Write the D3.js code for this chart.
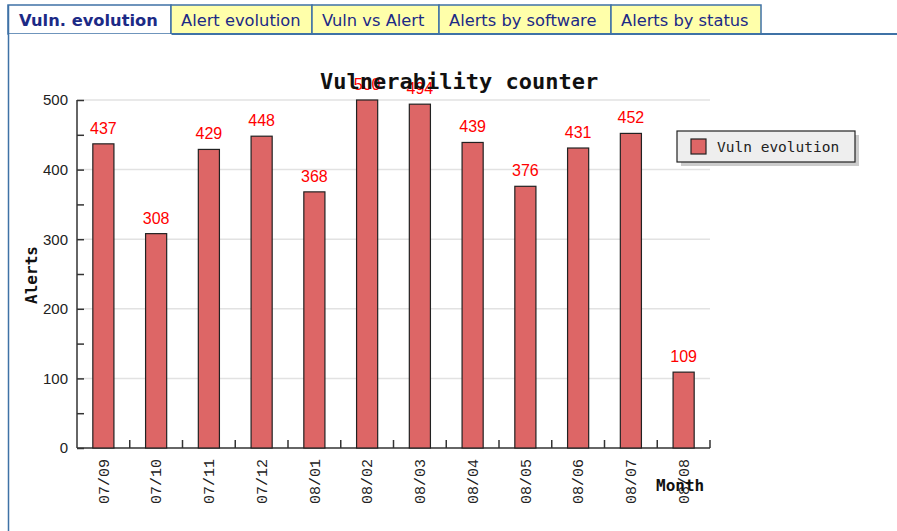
<!DOCTYPE html>
<html lang="en">
<head>
<meta charset="UTF-8">
<title>Vulnerability counter</title>
<script src="https://d3js.org/d3.v7.min.js"></script>
<style>
    body {
        margin: 0;
        background: white;
    }
    svg {
        display: block;
    }
    .tab text {
        font-family: "DejaVu Sans", sans-serif;
        font-size: 16.3px;
        fill: #1c2a86;
    }
    .grid line {
        stroke: #e2e2e2;
        stroke-width: 1.5px;
    }
    .axis path, .axis line {
        stroke: #333;
        stroke-width: 1.5px;
    }
    .bar {
        fill: #dd6666;
        stroke: #222;
        stroke-width: 1.2px;
    }
    .valueLabel {
        font-family: "Liberation Sans", sans-serif;
        font-size: 16px;
        fill: #ff0000;
    }
</style>
</head>
<body>
<div id="container"></div>
<script>
    // data
    const months = ["07/09", "07/10", "07/11", "07/12", "08/01", "08/02",
                    "08/03", "08/04", "08/05", "08/06", "08/07", "08/08"];
    const vulnCounts = [437, 308, 429, 448, 368, 500, 494, 439, 376, 431, 452, 109];
    const yTicks = [0, 50, 100, 150, 200, 250, 300, 350, 400, 450, 500];
    const tabNames = ["Vuln. evolution", "Alert evolution", "Vuln vs Alert",
                      "Alerts by software", "Alerts by status"];
    const tabEdges = [8, 171, 312, 439, 611, 761];

    const width = 897;
    const height = 531;
    const margins = {top: 100, bottom: 83, left: 77, right: 187};

    const svg = d3.select("#container").append("svg")
        .attr("width", width)
        .attr("height", height);

    // tabs
    const tabs = svg.append("g").attr("class", "tab");
    tabs.selectAll("rect")
        .data(tabNames)
        .enter()
        .append("rect")
        .attr("x", (d, i) => tabEdges[i])
        .attr("y", 5)
        .attr("width", (d, i) => tabEdges[i + 1] - tabEdges[i])
        .attr("height", 29)
        .attr("fill", (d, i) => i == 0 ? "white" : "#ffffaa")
        .attr("stroke", "#3f72a6")
        .attr("stroke-width", 1.5);
    tabs.selectAll("text")
        .data(tabNames)
        .enter()
        .append("text")
        .attr("x", (d, i) => tabEdges[i] + (i == 0 ? 11 : 10))
        .attr("y", 26)
        .attr("font-weight", (d, i) => i == 0 ? "bold" : "normal")
        .attr("font-size", (d, i) => i == 0 ? "15.5px" : null)
        .text(d => d);

    // panel border: bottom line of tab row and left side
    svg.append("line")
        .attr("x1", tabEdges[1]).attr("x2", width)
        .attr("y1", 34).attr("y2", 34)
        .attr("stroke", "#3f72a6").attr("stroke-width", 2);
    svg.append("rect")
        .attr("x", 8.5).attr("y", 34)
        .attr("width", 163).attr("height", 2)
        .attr("fill", "white");
    svg.append("line")
        .attr("x1", 8.5).attr("x2", 8.5)
        .attr("y1", 5).attr("y2", height)
        .attr("stroke", "#3f72a6").attr("stroke-width", 1.5);

    // scales
    const xScale = d3.scaleBand()
        .domain(months)
        .range([margins.left, width - margins.right])
        .paddingInner(0.6)
        .paddingOuter(0.3);

    const yScale = d3.scaleLinear()
        .domain([0, 500])
        .range([height - margins.bottom, margins.top]);

    const plotRight = width - margins.right;

    // gridlines
    svg.append("g").attr("class", "grid")
        .selectAll("line")
        .data([100, 200, 300, 400, 500])
        .enter()
        .append("line")
        .attr("x1", margins.left).attr("x2", plotRight)
        .attr("y1", d => yScale(d)).attr("y2", d => yScale(d));

    // y axis
    const yAxis = d3.axisLeft(yScale)
        .tickValues(yTicks)
        .tickSize(-7)
        .tickPadding(9)
        .tickFormat(d => d % 100 == 0 ? d : "");
    const yG = svg.append("g").attr("class", "axis")
        .attr("transform", `translate(${margins.left},0)`)
        .call(yAxis);
    yG.select(".domain").attr("d", `M0,${yScale(0)}V${yScale(500)}`);
    yG.selectAll("text")
        .attr("font-family", "Liberation Sans, sans-serif")
        .attr("font-size", "15px")
        .attr("fill", "#222");

    // x axis with ticks on category boundaries
    const xG = svg.append("g").attr("class", "axis");
    xG.append("line")
        .attr("x1", margins.left).attr("x2", plotRight)
        .attr("y1", yScale(0)).attr("y2", yScale(0));
    xG.selectAll(".xtick")
        .data(months)
        .enter()
        .append("line")
        .attr("class", "xtick")
        .attr("x1", d => xScale(d) + xScale.bandwidth() / 2 + xScale.step() / 2)
        .attr("x2", d => xScale(d) + xScale.bandwidth() / 2 + xScale.step() / 2)
        .attr("y1", yScale(0)).attr("y2", yScale(0) - 8);
    xG.selectAll("text")
        .data(months)
        .enter()
        .append("text")
        .attr("transform", d => `translate(${xScale(d) + xScale.bandwidth() / 2},${yScale(0) + 11}) rotate(-90)`)
        .attr("dy", "0.35em")
        .attr("text-anchor", "end")
        .attr("font-family", "Liberation Mono, monospace")
        .attr("font-size", "15px")
        .attr("fill", "#222")
        .text(d => d);

    // bars
    svg.append("g")
        .selectAll("rect")
        .data(vulnCounts)
        .enter()
        .append("rect")
        .attr("class", "bar")
        .attr("x", (d, i) => xScale(months[i]))
        .attr("y", d => yScale(d))
        .attr("width", xScale.bandwidth())
        .attr("height", d => yScale(0) - yScale(d));

    // value labels
    svg.append("g")
        .selectAll("text")
        .data(vulnCounts)
        .enter()
        .append("text")
        .attr("class", "valueLabel")
        .attr("x", (d, i) => xScale(months[i]) + xScale.bandwidth() / 2)
        .attr("y", d => yScale(d) - 10)
        .attr("text-anchor", "middle")
        .text(d => d);

    // title and axis titles
    svg.append("text")
        .attr("x", 320).attr("y", 89)
        .attr("font-family", "DejaVu Sans Mono, monospace")
        .attr("font-size", "22px")
        .attr("font-weight", "bold")
        .attr("fill", "#111")
        .text("Vulnerability counter");

    svg.append("text")
        .attr("transform", "translate(37,275) rotate(-90)")
        .attr("text-anchor", "middle")
        .attr("font-family", "DejaVu Sans Mono, monospace")
        .attr("font-size", "16px")
        .attr("font-weight", "bold")
        .attr("fill", "#111")
        .text("Alerts");

    svg.append("text")
        .attr("x", 656).attr("y", 491)
        .attr("font-family", "DejaVu Sans Mono, monospace")
        .attr("font-size", "16px")
        .attr("font-weight", "bold")
        .attr("fill", "#111")
        .text("Month");

    // legend
    const legend = svg.append("g").attr("transform", "translate(677,131)");
    legend.append("rect")
        .attr("x", 4).attr("y", 4)
        .attr("width", 178).attr("height", 31)
        .attr("fill", "#cccccc");
    legend.append("rect")
        .attr("width", 178).attr("height", 31)
        .attr("fill", "#eeeeee")
        .attr("stroke", "#222")
        .attr("stroke-width", 1.2);
    legend.append("rect")
        .attr("class", "bar")
        .attr("x", 14).attr("y", 8)
        .attr("width", 15).attr("height", 15);
    legend.append("text")
        .attr("x", 40).attr("y", 21)
        .attr("font-family", "DejaVu Sans Mono, monospace")
        .attr("font-size", "14.5px")
        .attr("fill", "#222")
        .text("Vuln evolution");
</script>
</body>
</html>
